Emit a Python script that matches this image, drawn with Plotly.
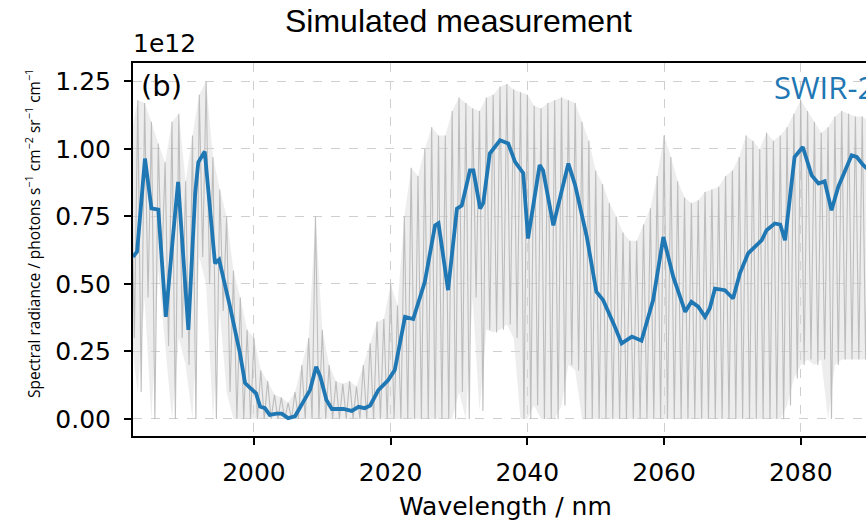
import plotly.graph_objects as go

# ---- data (radiance in units of 1e12 photons s^-1 cm^-2 sr^-1 cm^-1) ----
# smoothed (instrument-convolved) SWIR-2 spectrum
blue_wl = [1982.3, 1982.9, 1984.05, 1985.0, 1986.0, 1987.1, 1988.2, 1988.9, 1990.4, 1991.4,
           1991.85, 1992.8, 1994.3, 1994.9, 1996.5, 1997.95, 1998.7, 1999.4, 2000.3, 2000.9,
           2001.6, 2002.3, 2003.3, 2004.05, 2005.0, 2006.0, 2007.2, 2008.2, 2009.1, 2009.7,
           2010.6, 2011.4, 2013.1, 2014.3, 2015.3, 2016.2, 2017.0, 2018.2, 2019.65, 2020.6,
           2022.1, 2023.3, 2025.0, 2026.5, 2027.0, 2028.4, 2029.7, 2030.4, 2031.6, 2032.1,
           2033.1, 2033.55, 2034.5, 2036.0, 2037.2, 2038.2, 2039.4, 2040.1, 2041.8, 2042.3,
           2043.8, 2046.0, 2047.0, 2048.7, 2050.1, 2051.1, 2052.6, 2053.8, 2055.3, 2056.7,
           2058.4, 2059.9, 2061.35, 2063.1, 2064.0, 2065.0, 2066.0, 2066.7, 2067.45, 2068.9,
           2070.1, 2071.1, 2072.3, 2073.3, 2074.3, 2075.0, 2076.2, 2077.0, 2077.7, 2079.1,
           2080.3, 2081.6, 2082.6, 2083.5, 2084.5, 2085.5, 2087.45, 2088.2, 2089.15, 2090.0]
blue_rad = [0.60, 0.62, 0.964, 0.78, 0.775, 0.378, 0.69, 0.878, 0.33, 0.835,
            0.95, 0.99, 0.576, 0.59, 0.415, 0.243, 0.133, 0.115, 0.095, 0.046,
            0.04, 0.015, 0.02, 0.02, 0.003, 0.01, 0.064, 0.107, 0.193, 0.157,
            0.07, 0.037, 0.037, 0.03, 0.045, 0.04, 0.05, 0.107, 0.144, 0.181,
            0.378, 0.37, 0.508, 0.717, 0.725, 0.477, 0.779, 0.79, 0.92, 0.92,
            0.779, 0.80, 0.983, 1.032, 1.02, 0.952, 0.91, 0.668, 0.94, 0.92,
            0.717, 0.946, 0.865, 0.674, 0.471, 0.44, 0.354, 0.28, 0.305, 0.29,
            0.44, 0.674, 0.526, 0.397, 0.434, 0.416, 0.378, 0.41, 0.483, 0.477,
            0.446, 0.539, 0.613, 0.638, 0.662, 0.699, 0.724, 0.72, 0.662, 0.97,
            1.007, 0.902, 0.872, 0.88, 0.773, 0.86, 0.976, 0.97, 0.94, 0.92]

# high-resolution spectrum: upper / lower envelope per nm (1982 ... 2090)
gray_wl = list(range(1982, 2091))
gray_hi = [1.05, 1.18, 1.17, 1.10, 1.02, 0.95, 1.10, 1.13, 0.88, 1.05,
           1.20, 1.25, 0.97, 0.85, 0.75, 0.55, 0.45, 0.33, 0.30, 0.18,
           0.14, 0.09, 0.08, 0.06, 0.10, 0.20, 0.30, 0.75, 0.33, 0.20,
           0.14, 0.13, 0.14, 0.12, 0.20, 0.28, 0.36, 0.37, 0.50, 0.42,
           0.75, 0.93, 0.90, 1.00, 1.08, 1.05, 1.05, 1.14, 1.19, 1.17,
           1.15, 1.14, 1.19, 1.20, 1.23, 1.24, 1.22, 1.21, 1.20, 1.16,
           1.15, 1.17, 1.18, 1.19, 1.18, 1.17, 1.10, 1.03, 0.92, 0.87,
           0.80, 0.75, 0.69, 0.66, 0.66, 0.72, 0.78, 0.90, 1.05, 0.97,
           0.88, 0.82, 0.80, 0.81, 0.84, 0.85, 0.86, 0.90, 0.92, 0.97,
           1.05, 1.03, 1.00, 1.06, 1.03, 1.05, 1.08, 1.13, 1.18, 1.14,
           1.10, 1.06, 1.08, 1.12, 1.14, 1.13, 1.12, 1.12, 1.10]
gray_lo = [0.30, 0.10, 0.45, 0.0, 0.55, 0.27, 0.0, 0.30, 0.20, 0.0,
           0.60, 0.50, 0.0, 0.40, 0.10, 0.0, 0.0, 0.0, 0.0, 0.0,
           0.0, 0.0, 0.0, 0.0, 0.0, 0.0, 0.0, 0.0, 0.0, 0.0,
           0.0, 0.0, 0.0, 0.0, 0.0, 0.0, 0.0, 0.0, 0.0, 0.0,
           0.0, 0.0, 0.0, 0.0, 0.0, 0.0, 0.0, 0.0, 0.10, 0.0,
           0.45, 0.03, 0.33, 0.32, 0.33, 0.35, 0.30, 0.0, 0.0, 0.05,
           0.0, 0.0, 0.0, 0.05, 0.20, 0.18, 0.0, 0.0, 0.0, 0.0,
           0.0, 0.0, 0.0, 0.0, 0.0, 0.0, 0.0, 0.0, 0.0, 0.0,
           0.0, 0.0, 0.0, 0.0, 0.0, 0.0, 0.0, 0.0, 0.0, 0.0,
           0.0, 0.0, 0.0, 0.0, 0.0, 0.0, 0.05, 0.15, 0.20, 0.22,
           0.20, 0.22, 0.0, 0.20, 0.22, 0.22, 0.22, 0.22, 0.22]

x_ticks = [2000, 2020, 2040, 2060, 2080]
y_ticks = [0.0, 0.25, 0.5, 0.75, 1.0, 1.25]

# zig-zag between envelope values to mimic the dense line spectrum
zx, zy = [], []
for w, h, l in zip(gray_wl, gray_hi, gray_lo):
    zx += [w, w + 0.5]
    zy += [h, l]

fig = go.Figure()
# light band between the envelopes (dense absorption lines)
fig.add_trace(go.Scatter(x=gray_wl + gray_wl[::-1], y=gray_hi + gray_lo[::-1],
                         mode="lines", fill="toself", fillcolor="rgba(215,215,215,0.45)",
                         line=dict(width=0), hoverinfo="skip", showlegend=False))
fig.add_trace(go.Scatter(x=zx, y=zy, mode="lines",
                         line=dict(color="rgba(180,180,180,0.85)", width=1.1),
                         hoverinfo="skip", showlegend=False))
fig.add_trace(go.Scatter(x=blue_wl, y=blue_rad, mode="lines",
                         line=dict(color="#1f77b4", width=3.8),
                         showlegend=False))

L, T, B, R = 133, 63, 91, 0
W, H = 866, 527
pw, ph = W - L - R, H - T - B


def px(x):
    return (x - L) / pw


def py(y):
    return (T + ph - y) / ph


tickfont = dict(family="DejaVu Sans", size=25, color="black")
fig.update_layout(
    width=W, height=H,
    margin=dict(l=L, r=R, t=T, b=B, pad=0, autoexpand=False),
    plot_bgcolor="white", paper_bgcolor="white",
    xaxis=dict(range=[1982.3, 2089.55], tickvals=x_ticks, automargin=False,
               ticks="outside", ticklen=7, tickwidth=1.6, tickcolor="black",
               showline=True, linewidth=2, linecolor="black", mirror=True,
               showgrid=True, gridcolor="#cfcfcf", gridwidth=1, griddash="dash",
               zeroline=False, tickfont=tickfont, ticklabelstandoff=6),
    yaxis=dict(range=[-0.063, 1.318], tickvals=y_ticks, tickformat=".2f", automargin=False,
               ticks="outside", ticklen=7, tickwidth=1.6, tickcolor="black",
               showline=True, linewidth=2, linecolor="black", mirror=False,
               showgrid=True, gridcolor="#cfcfcf", gridwidth=1, griddash="dash",
               zeroline=False, tickfont=tickfont, ticklabelstandoff=8),
)

ann = [
    dict(text="Simulated measurement", x=px(458), y=py(21),
         font=dict(family="Liberation Sans", size=32, color="black"),
         xanchor="center", yanchor="middle"),
    dict(text="1e12", x=px(131), y=py(44),
         font=dict(family="DejaVu Sans", size=25, color="black"),
         xanchor="left", yanchor="middle"),
    dict(text="(b)", x=px(139), y=py(86),
         font=dict(family="DejaVu Sans", size=29, color="black"),
         xanchor="left", yanchor="middle"),
    dict(text="SWIR-2", x=px(772), y=py(87),
         font=dict(family="Open Sans", size=31, color="#1f77b4"),
         xanchor="left", yanchor="middle"),
    dict(text="Wavelength / nm", x=px(505), y=py(507),
         font=dict(family="DejaVu Sans", size=25, color="black"),
         xanchor="center", yanchor="middle"),
    dict(text="Spectral radiance / photons s<sup>−1</sup> cm<sup>−2</sup> sr<sup>−1</sup> cm<sup>−1</sup>",
         x=px(33), y=py(234), textangle=-90,
         font=dict(family="Open Sans", size=15.5, color="black"),
         xanchor="center", yanchor="middle"),
]
for a in ann:
    fig.add_annotation(xref="paper", yref="paper", showarrow=False, **a)

fig.write_html("out.html", config={"displayModeBar": False},
               post_script="document.body.style.margin='0';document.body.style.overflow='hidden';")
